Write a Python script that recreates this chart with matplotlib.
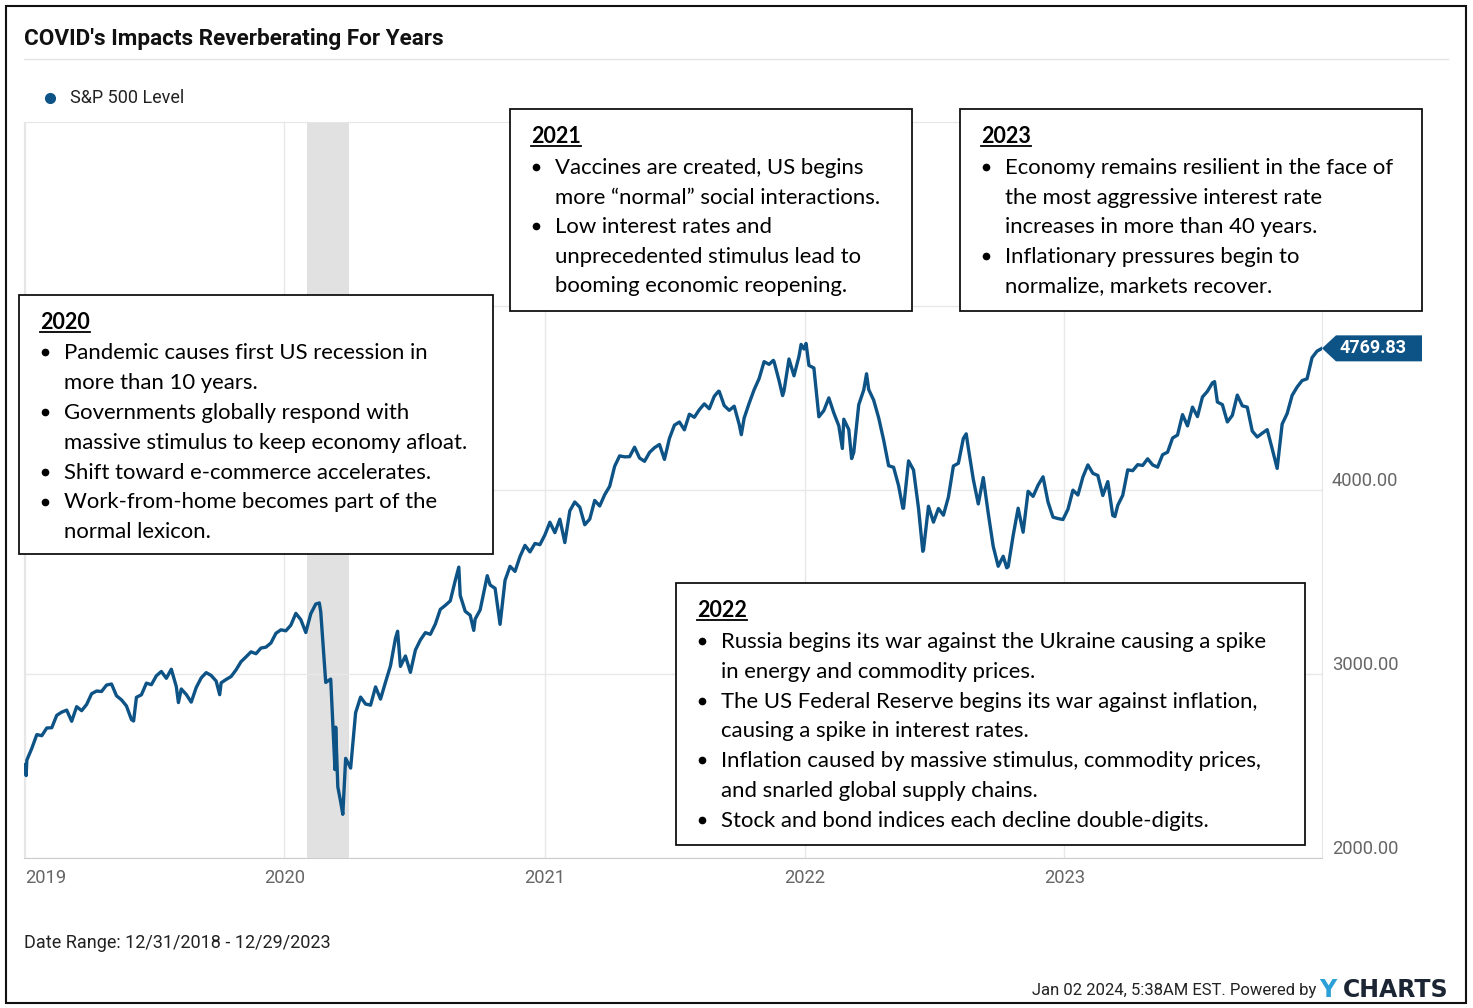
import numpy as np
import pandas as pd
import matplotlib
matplotlib.use("Agg")
import matplotlib.pyplot as plt
import matplotlib.dates as mdates
from matplotlib.patches import Rectangle, Polygon
from matplotlib.lines import Line2D
from matplotlib.transforms import Affine2D

W, H = 1473, 1008

# weekly (Friday) closes of the S&P 500
sp_2019 = [2531.94, 2596.26, 2670.71, 2664.76, 2706.53, 2707.88, 2775.60, 2792.67,
           2803.69, 2743.07, 2822.48, 2800.71, 2834.40, 2892.74, 2907.41, 2905.03, 2939.88,
           2945.64, 2881.40, 2859.53, 2826.06, 2752.06, 2873.34, 2886.98, 2950.46, 2941.76,
           2990.41, 3013.77, 2976.61, 3025.86, 2932.05, 2918.65, 2888.68, 2847.11, 2926.46,
           2978.71, 3007.39, 2992.07, 2961.79, 2952.01, 2970.27, 2986.20, 3022.55,
           3066.91, 3093.08, 3120.46, 3110.29, 3140.98, 3145.91, 3168.80, 3221.22, 3240.02]
sp_2020 = [3234.85, 3265.35, 3329.62, 3295.47, 3225.52, 3327.71, 3380.16, 3337.75, 2954.22,
           2972.37, 2711.02, 2304.92, 2541.47, 2488.65, 2789.82, 2874.56, 2836.74,
           2830.71, 2929.80, 2863.70, 2955.45, 3044.31, 3193.93, 3041.31, 3097.74, 3009.05,
           3130.01, 3185.04, 3224.73, 3215.63, 3271.12, 3351.28, 3372.85, 3397.16, 3508.01,
           3426.96, 3340.97, 3319.47, 3298.46, 3348.42, 3477.14, 3483.81, 3465.39, 3269.96,
           3509.44, 3585.15, 3557.54, 3638.35, 3699.12, 3663.46, 3709.41, 3703.06]
sp_2021 = [3756.07, 3824.68, 3768.25, 3841.47, 3714.24, 3886.83, 3934.83, 3906.71, 3811.15,
           3841.94, 3943.34, 3913.10, 3974.54, 4019.87, 4128.80, 4185.47, 4180.17, 4181.17,
           4232.60, 4173.85, 4155.86, 4204.11, 4229.89, 4247.44, 4166.45, 4280.70,
           4352.34, 4369.55, 4327.16, 4411.79, 4395.26, 4436.52, 4468.00, 4441.67, 4509.37,
           4535.43, 4458.58, 4432.99, 4455.48, 4357.04, 4391.34, 4471.37, 4544.90, 4605.38,
           4697.53, 4682.85, 4697.96, 4594.62, 4538.43, 4712.02, 4620.64, 4725.79, 4766.18]
sp_2022 = [4677.03, 4662.85, 4397.94, 4431.85, 4500.53, 4418.64, 4348.87, 4384.65,
           4328.87, 4204.31, 4463.12, 4543.06, 4545.86, 4488.28, 4392.59, 4271.78, 4131.93,
           4123.34, 4023.89, 3901.36, 4158.24, 4108.54, 3900.86, 3674.84, 3911.74,
           3825.33, 3899.38, 3863.16, 3961.63, 4130.29, 4145.19, 4280.15, 4228.48, 4057.66,
           3924.26, 4067.36, 3873.33, 3693.23, 3585.62, 3639.66, 3583.07, 3752.75, 3901.06,
           3770.55, 3992.93, 3965.34, 4026.12, 4071.70, 3934.38, 3852.36, 3844.82, 3839.50]
sp_2023 = [3895.08, 3999.09, 3972.61, 4070.56, 4136.48, 4090.46, 4079.09, 3970.04,
           4045.64, 3861.59, 3916.64, 3970.99, 4109.31, 4105.02, 4137.64, 4133.52, 4169.48,
           4136.25, 4124.08, 4191.98, 4205.45, 4282.37, 4298.86, 4409.59, 4348.33, 4450.38,
           4398.95, 4505.42, 4536.34, 4582.23, 4478.03, 4464.05, 4369.71, 4405.71,
           4515.77, 4457.49, 4450.32, 4320.06, 4288.05, 4308.50, 4327.78, 4224.16, 4117.37,
           4358.34, 4415.24, 4514.02, 4559.34, 4594.63, 4604.37, 4719.19, 4754.63, 4769.83]

# a few daily closes (turning points)
extra_dates = ["2018-12-31", "2019-01-03", "2019-06-03", "2019-08-05", "2019-10-02",
               "2020-02-19", "2020-03-12", "2020-03-16", "2020-03-23", "2020-06-08",
               "2020-09-02", "2020-09-23", "2020-10-12", "2021-09-02", "2021-10-04",
               "2021-11-18", "2021-12-01", "2021-12-27", "2022-01-03", "2022-02-23",
               "2022-03-08", "2022-03-29", "2022-05-19", "2022-06-16", "2022-08-16",
               "2022-10-12", "2023-03-13", "2023-07-31"]
extra_values = [2506.85, 2447.89, 2744.45, 2844.74, 2887.61,
                3386.15, 2480.64, 2386.13, 2237.40, 3232.39,
                3580.84, 3236.92, 3534.22, 4536.95, 4300.46,
                4704.54, 4513.04, 4791.19, 4796.56, 4225.50,
                4170.70, 4631.60, 3900.79, 3666.77, 4305.20,
                3577.03, 3855.76, 4588.96]

year_ticks = ["2019", "2020", "2021", "2022", "2023"]
y_ticks = [2000, 3000, 4000, 5000]
recession = ("2020-02-01", "2020-04-01")
last_date = "2023-12-29"
last_value = 4769.83

weekly = pd.Series(sp_2019 + sp_2020 + sp_2021 + sp_2022 + sp_2023,
                   index=pd.date_range("2019-01-04", "2023-12-29", freq="W-FRI"))
daily = pd.Series(extra_values, index=pd.to_datetime(extra_dates))
sp = pd.concat([weekly, daily]).sort_index()

BLUE = "#0d5386"
NARROW = ["Roboto", "DejaVu Sans"]
BODY = ["Lato", "DejaVu Sans"]

fig = plt.figure(figsize=(W / 100, H / 100), dpi=100)


def px(x, y):
    return x / W, 1 - y / H


ax = fig.add_axes([24 / W, 1 - 858 / H, (1322 - 24) / W, (858 - 122) / H])
ax.axvspan(pd.Timestamp(recession[0]), pd.Timestamp(recession[1]), color="#e1e1e1", lw=0, zorder=0)
ax.plot(sp.index, sp.values, color=BLUE, lw=2.4, zorder=3, solid_joinstyle="round")
ax.set_xlim(pd.Timestamp("2018-12-31"), pd.Timestamp(last_date))
ax.set_ylim(2000, 6000)
ax.set_yticks(y_ticks)
ax.set_yticklabels(["%.2f" % v for v in y_ticks])
ax.yaxis.tick_right()
ax.set_xticks([pd.Timestamp(y + "-01-01") for y in year_ticks])
ax.set_xticklabels(year_ticks)
ax.get_xticklabels()[0].set_ha("left")
ax.tick_params(length=0, labelcolor="#666666", labelsize=13.2)
ax.tick_params(axis="y", pad=7)
ax.tick_params(axis="x", pad=8)
for lab in ax.get_xticklabels() + ax.get_yticklabels():
    lab.set_family(NARROW)
for lab in ax.get_yticklabels():
    lab.set_va("bottom")
ax.grid(True, color="#e8e8e8", lw=1)
for s in ["top", "left", "right"]:
    ax.spines[s].set_color("#e6e6e6")
ax.spines["bottom"].set_color("#cccccc")

# end label
x_end, y_end = ax.transData.transform((mdates.date2num(pd.Timestamp(last_date)), last_value))
tag = Polygon([(0, 0), (14, 13), (100, 13), (100, -13), (14, -13)], closed=True,
              fc=BLUE, ec="none", zorder=7,
              transform=Affine2D().translate(x_end, y_end), clip_on=False)
fig.add_artist(tag)
fig.text((x_end + 51) / W, y_end / H, "%.2f" % last_value, color="white", fontsize=13,
         fontweight="bold", family=NARROW, ha="center", va="center", zorder=8)

# header
fig.text(*px(24, 45), "COVID's Impacts Reverberating For Years", fontsize=16.2, fontweight="bold",
         family=NARROW, color="#111111", va="baseline")
fig.add_artist(Line2D([24 / W, 1448 / W], [1 - 59 / H] * 2, color="#e4e4e4", lw=1))
fig.add_artist(Line2D([50 / W], [1 - 98 / H], marker="o", ms=7, color=BLUE))
fig.text(*px(70, 98), "S&P 500 Level", fontsize=13, family=NARROW, color="#222222", va="center")

# footer
fig.text(*px(24, 943), "Date Range: 12/31/2018 - 12/29/2023", fontsize=13, family=NARROW,
         color="#222222", va="center")
fig.text(*px(1316, 990), "Jan 02 2024, 5:38AM EST. Powered by", fontsize=12, family=NARROW,
         color="#222222", va="center", ha="right")
fig.text(*px(1319, 990), "Y", fontsize=17, fontweight="bold", family=["DejaVu Sans"],
         color="#2a9fd8", va="center", ha="left")
fig.text(*px(1448, 990), "CHARTS", fontsize=17, fontweight="bold", family=["DejaVu Sans"],
         color="#1b2533", va="center", ha="right")

# outer frame
fig.add_artist(Rectangle((6 / W, 1 - 1003 / H), 1460 / W, 997 / H, transform=fig.transFigure,
                         fill=False, ec="#111111", lw=1.5))

boxes = [
    ("2020", (19, 295, 493, 554), 329, 359, 29.9,
     [["Pandemic causes first US recession in", "more than 10 years."],
      ["Governments globally respond with", "massive stimulus to keep economy afloat."],
      ["Shift toward e-commerce accelerates."],
      ["Work-from-home becomes part of the", "normal lexicon."]]),
    ("2021", (510, 109, 912, 311), 143, 174, 29.5,
     [["Vaccines are created, US begins", "more \u201cnormal\u201d social interactions."],
      ["Low interest rates and", "unprecedented stimulus lead to", "booming economic reopening."]]),
    ("2023", (960, 109, 1422, 311), 143, 174, 29.5,
     [["Economy remains resilient in the face of", "the most aggressive interest rate",
       "increases in more than 40 years."],
      ["Inflationary pressures begin to", "normalize, markets recover."]]),
    ("2022", (676, 583, 1305, 845), 617, 648, 29.8,
     [["Russia begins its war against the Ukraine causing a spike", "in energy and commodity prices."],
      ["The US Federal Reserve begins its war against inflation,", "causing a spike in interest rates."],
      ["Inflation caused by massive stimulus, commodity prices,", "and snarled global supply chains."],
      ["Stock and bond indices each decline double-digits."]]),
]

renderer = fig.canvas.get_renderer()
for head, (x0, y0, x1, y1), hy, ly, step, bullets in boxes:
    fig.add_artist(Rectangle((x0 / W, 1 - y1 / H), (x1 - x0) / W, (y1 - y0) / H,
                             transform=fig.transFigure, fc="white", ec="#111111", lw=1.3, zorder=5))
    t = fig.text(*px(x0 + 21, hy), head, fontsize=15.5, fontweight="bold", family=BODY,
                 color="black", va="baseline", zorder=6)
    bb = t.get_window_extent(renderer)
    fig.add_artist(Line2D([bb.x0 / W, bb.x1 / W], [1 - (hy + 3) / H] * 2, color="black",
                          lw=1.3, zorder=6))
    i = 0
    for lines in bullets:
        fig.add_artist(Line2D([(x0 + 26) / W], [1 - (ly + i * step - 7) / H], marker="o",
                              ms=4.5, color="black", zorder=6))
        for line in lines:
            fig.text(*px(x0 + 45, ly + i * step), line, fontsize=15.9, family=BODY,
                     color="black", va="baseline", zorder=6)
            i += 1

fig.savefig("out.png", dpi=100)
